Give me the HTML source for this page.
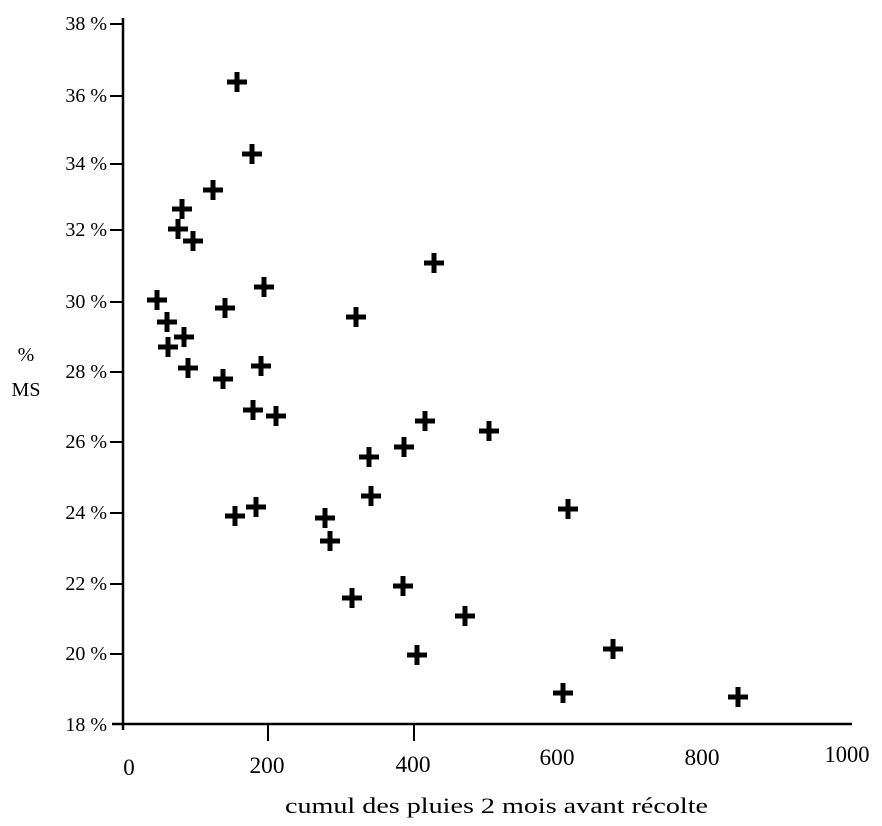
<!DOCTYPE html><html><head><style>body{margin:0;background:#fff}</style></head><body>
<svg width="882" height="821" xmlns="http://www.w3.org/2000/svg" font-family="Liberation Serif, serif" fill="#000">
<line x1="123" y1="18" x2="123" y2="730" stroke="#000" stroke-width="2.5"/>
<line x1="112" y1="724" x2="852" y2="724" stroke="#000" stroke-width="2.5"/>
<g stroke="#000" stroke-width="2">
<line x1="110" y1="24" x2="123" y2="24"/><line x1="110" y1="96" x2="123" y2="96"/><line x1="110" y1="164" x2="123" y2="164"/><line x1="110" y1="230" x2="123" y2="230"/><line x1="110" y1="302" x2="123" y2="302"/><line x1="110" y1="372" x2="123" y2="372"/><line x1="110" y1="442" x2="123" y2="442"/><line x1="110" y1="513" x2="123" y2="513"/><line x1="110" y1="584" x2="123" y2="584"/><line x1="110" y1="654" x2="123" y2="654"/>
<line x1="268" y1="724" x2="268" y2="741"/><line x1="414" y1="724" x2="414" y2="741"/>
</g>
<g font-size="20" text-anchor="end">
<text x="107" y="30">38 %</text><text x="107" y="102">36 %</text><text x="107" y="170">34 %</text><text x="107" y="236">32 %</text><text x="107" y="308">30 %</text><text x="107" y="378">28 %</text><text x="107" y="448">26 %</text><text x="107" y="519">24 %</text><text x="107" y="590">22 %</text><text x="107" y="660">20 %</text><text x="107" y="731">18 %</text>
</g>
<text x="26" y="361" font-size="20" text-anchor="middle">%</text>
<text x="26" y="396" font-size="20" text-anchor="middle">MS</text>
<g font-size="23" text-anchor="middle">
<text x="129" y="775">0</text><text x="267" y="773" textLength="35" lengthAdjust="spacingAndGlyphs">200</text><text x="413" y="772" textLength="35" lengthAdjust="spacingAndGlyphs">400</text><text x="557" y="765" textLength="35" lengthAdjust="spacingAndGlyphs">600</text><text x="702" y="765" textLength="35" lengthAdjust="spacingAndGlyphs">800</text><text x="847" y="762" textLength="45" lengthAdjust="spacingAndGlyphs">1000</text>
</g>
<text x="285" y="813" font-size="22" textLength="423" lengthAdjust="spacingAndGlyphs">cumul des pluies 2 mois avant récolte</text>
<g stroke="#000" stroke-width="5">
<path id="p" d=""/>
</g>
<script>
var pts=[[237,82],[252,154],[213,190],[182,209],[178,229],[193,241],[434,263],[157,300],[264,287],[225,308],[356,317],[167,322],[184,337],[168,347],[188,368],[261,366],[223,379],[253,410],[276,416],[425,421],[489,431],[369,457],[404,447],[371,496],[568,509],[235,516],[256,507],[325,518],[330,541],[403,586],[352,598],[465,616],[417,655],[613,649],[563,693],[738,697]];
var d="";pts.forEach(function(p){d+="M"+(p[0]-10)+" "+p[1]+"h20M"+p[0]+" "+(p[1]-10)+"v20";});
document.getElementById("p").setAttribute("d",d);
</script>
</svg>
</body></html>
